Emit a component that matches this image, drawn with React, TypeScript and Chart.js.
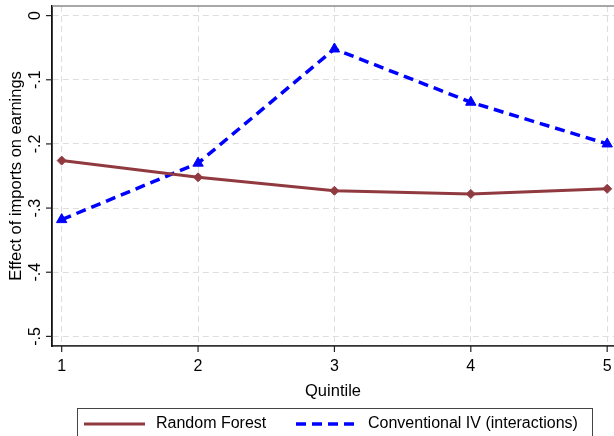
import React, { useEffect, useRef } from "react";
import { Chart, registerables } from "chart.js";

Chart.register(...registerables);

const quintiles = [1, 2, 3, 4, 5];
const randomForest = [-0.226, -0.252, -0.273, -0.278, -0.27];
const conventionalIV = [-0.318, -0.23, -0.052, -0.135, -0.2];
const yTicks = [0, -0.1, -0.2, -0.3, -0.4, -0.5];
const yTickLabels = ["0", "-.1", "-.2", "-.3", "-.4", "-.5"];
const xTickLabels = ["1", "2", "3", "4", "5"];
const seriesLabels = ["Random Forest", "Conventional IV (interactions)"];
const yTitle = "Effect of imports on earnings";
const xTitle = "Quintile";

const FONT = '16px "Liberation Sans", Arial, sans-serif';
const TITLE_FONT = '16.5px "Liberation Sans", Arial, sans-serif';
const MAROON = "#903a40";
const BLUE = "#0000ff";

const decorPlugin = {
  id: "stataDecor",
  afterDraw(chart: any) {
    const ctx = chart.ctx as CanvasRenderingContext2D;
    const area = chart.chartArea;
    const xs = chart.scales.x;
    const ys = chart.scales.y;
    ctx.save();
    // top plot region border
    ctx.strokeStyle = "#8a8a8a";
    ctx.lineWidth = 1.5;
    ctx.beginPath();
    ctx.moveTo(area.left, area.top);
    ctx.lineTo(chart.width, area.top);
    ctx.stroke();

    ctx.fillStyle = "#000";
    ctx.strokeStyle = "#222";
    ctx.lineWidth = 1.2;
    ctx.font = FONT;
    // y ticks and labels
    yTicks.forEach((v, i) => {
      const py = ys.getPixelForValue(v);
      ctx.beginPath();
      ctx.moveTo(area.left - 6, py);
      ctx.lineTo(area.left, py);
      ctx.stroke();
      ctx.save();
      ctx.translate(36, py);
      ctx.rotate(-Math.PI / 2);
      ctx.textAlign = "center";
      ctx.textBaseline = "middle";
      ctx.fillText(yTickLabels[i], 0, 0);
      ctx.restore();
    });
    // y title
    ctx.save();
    ctx.font = TITLE_FONT;
    ctx.translate(16, (area.top + area.bottom) / 2);
    ctx.rotate(-Math.PI / 2);
    ctx.textAlign = "center";
    ctx.textBaseline = "middle";
    ctx.fillText(yTitle, 0, 0);
    ctx.restore();
    // x ticks and labels
    quintiles.forEach((v, i) => {
      const px = xs.getPixelForValue(v);
      ctx.beginPath();
      ctx.moveTo(px, area.bottom);
      ctx.lineTo(px, area.bottom + 6);
      ctx.stroke();
      ctx.textAlign = "center";
      ctx.textBaseline = "middle";
      ctx.fillText(xTickLabels[i], px, area.bottom + 21);
    });
    // x title
    ctx.font = TITLE_FONT;
    ctx.textAlign = "center";
    ctx.textBaseline = "middle";
    ctx.fillText(xTitle, (area.left + area.right) / 2, area.bottom + 45);

    // legend
    ctx.font = FONT;
    ctx.strokeStyle = "#444";
    ctx.lineWidth = 1;
    ctx.strokeRect(77.5, 408.5, 515, 40);
    const ly = 424;
    const items = [
      { x0: 84, x1: 145, tx: 156 },
      { x0: 296, x1: 357, tx: 368 },
    ];
    chart.data.datasets.forEach((ds: any, i: number) => {
      const it = items[i];
      if (!it) return;
      ctx.save();
      ctx.strokeStyle = ds.borderColor;
      ctx.lineWidth = ds.borderWidth;
      ctx.setLineDash(ds.borderDash || []);
      ctx.beginPath();
      ctx.moveTo(it.x0, ly);
      ctx.lineTo(it.x1, ly);
      ctx.stroke();
      ctx.restore();
      ctx.fillStyle = "#000";
      ctx.textAlign = "left";
      ctx.textBaseline = "middle";
      ctx.fillText(ds.label, it.tx, ly);
    });
    ctx.restore();
  },
};

export default function App() {
  const ref = useRef<HTMLCanvasElement | null>(null);
  useEffect(() => {
    if (!ref.current) return;
    const chart = new Chart(ref.current, {
      type: "line",
      data: {
        datasets: [
          {
            label: seriesLabels[0],
            data: quintiles.map((q, i) => ({ x: q, y: randomForest[i] })),
            borderColor: MAROON,
            backgroundColor: MAROON,
            borderWidth: 3,
            pointStyle: "rectRot",
            pointRadius: 4.5,
            pointBorderWidth: 1,
            pointBackgroundColor: MAROON,
            pointBorderColor: MAROON,
            tension: 0,
          },
          {
            label: seriesLabels[1],
            data: quintiles.map((q, i) => ({ x: q, y: conventionalIV[i] })),
            borderColor: BLUE,
            backgroundColor: BLUE,
            borderWidth: 3.5,
            borderDash: [10, 6],
            pointStyle: "triangle",
            pointRadius: 6,
            pointBorderWidth: 1,
            pointBackgroundColor: BLUE,
            pointBorderColor: BLUE,
            tension: 0,
          },
        ],
      },
      options: {
        animation: false,
        responsive: false,
        devicePixelRatio: 1,
        layout: { autoPadding: false, padding: { top: 6, right: 0, left: 0, bottom: 0 } },
        plugins: { legend: { display: false }, tooltip: { enabled: false } },
        scales: {
          x: {
            type: "linear",
            min: 0.929,
            max: 5.05,
            afterBuildTicks: (s: any) => {
              s.ticks = quintiles.map((v) => ({ value: v }));
            },
            afterFit: (s: any) => {
              s.height = 90;
            },
            ticks: { display: false },
            grid: { color: "#dedede", lineWidth: 1, drawTicks: false },
            border: { display: true, color: "#333", width: 1.8, dash: [6, 4] },
          },
          y: {
            type: "linear",
            min: -0.515,
            max: 0.015,
            afterBuildTicks: (s: any) => {
              s.ticks = yTicks.map((v) => ({ value: v }));
            },
            afterFit: (s: any) => {
              s.width = 52;
            },
            ticks: { display: false },
            grid: { color: "#dedede", lineWidth: 1, drawTicks: false },
            border: { display: true, color: "#111", width: 1.8, dash: [6, 4] },
          },
        },
      },
      plugins: [decorPlugin],
    } as any);
    return () => chart.destroy();
  }, []);
  return (
    <div style={{ position: "absolute", left: 0, top: 0, width: 614, height: 436, background: "#fff" }}>
      <canvas ref={ref} width={614} height={436} />
    </div>
  );
}
